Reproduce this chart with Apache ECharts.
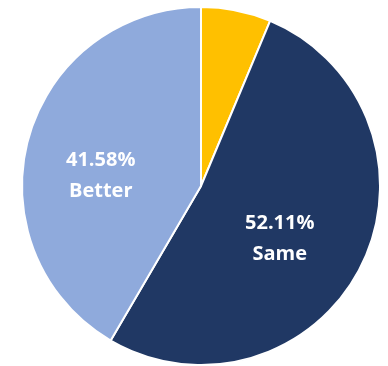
<!DOCTYPE html>
<html>
<head>
<meta charset="utf-8">
<script src="https://cdn.jsdelivr.net/npm/echarts@6/dist/echarts.min.js"></script>
<style>
  html, body { margin: 0; padding: 0; background: #ffffff; }
  #chart { width: 388px; height: 366px; }
</style>
</head>
<body>
<div id="chart"></div>
<script>
// Survey responses, share of respondents (%)
const categories = ['Worse', 'Same', 'Better'];
const shares = [6.31, 52.11, 41.58];
const colors = ['#FFC000', '#203864', '#8FAADC'];
const showLabel = [false, true, true];
// nudges for the inside labels, per slice
const labelNudge = [[0, 0], [-4, 12], [-11, 14]];

const chart = echarts.init(document.getElementById('chart'), null, { renderer: 'canvas' });

chart.setOption({
  animation: false,
  backgroundColor: '#ffffff',
  series: [{
    type: 'pie',
    center: [201, 186],
    radius: [0, 179],
    startAngle: 90,
    clockwise: true,
    itemStyle: { borderColor: '#ffffff', borderWidth: 2 },
    label: {
      position: 'inside',
      color: '#ffffff',
      fontFamily: 'Open Sans',
      fontWeight: 'bold',
      fontSize: 20,
      lineHeight: 31,
      formatter: p => p.value.toFixed(2) + '%\n' + p.name
    },
    labelLine: { show: false },
    labelLayout: params => ({
      dx: labelNudge[params.dataIndex][0],
      dy: labelNudge[params.dataIndex][1]
    }),
    emphasis: { disabled: true },
    data: categories.map((name, i) => ({
      name,
      value: shares[i],
      itemStyle: { color: colors[i] },
      label: { show: showLabel[i] }
    }))
  }]
});
</script>
</body>
</html>
